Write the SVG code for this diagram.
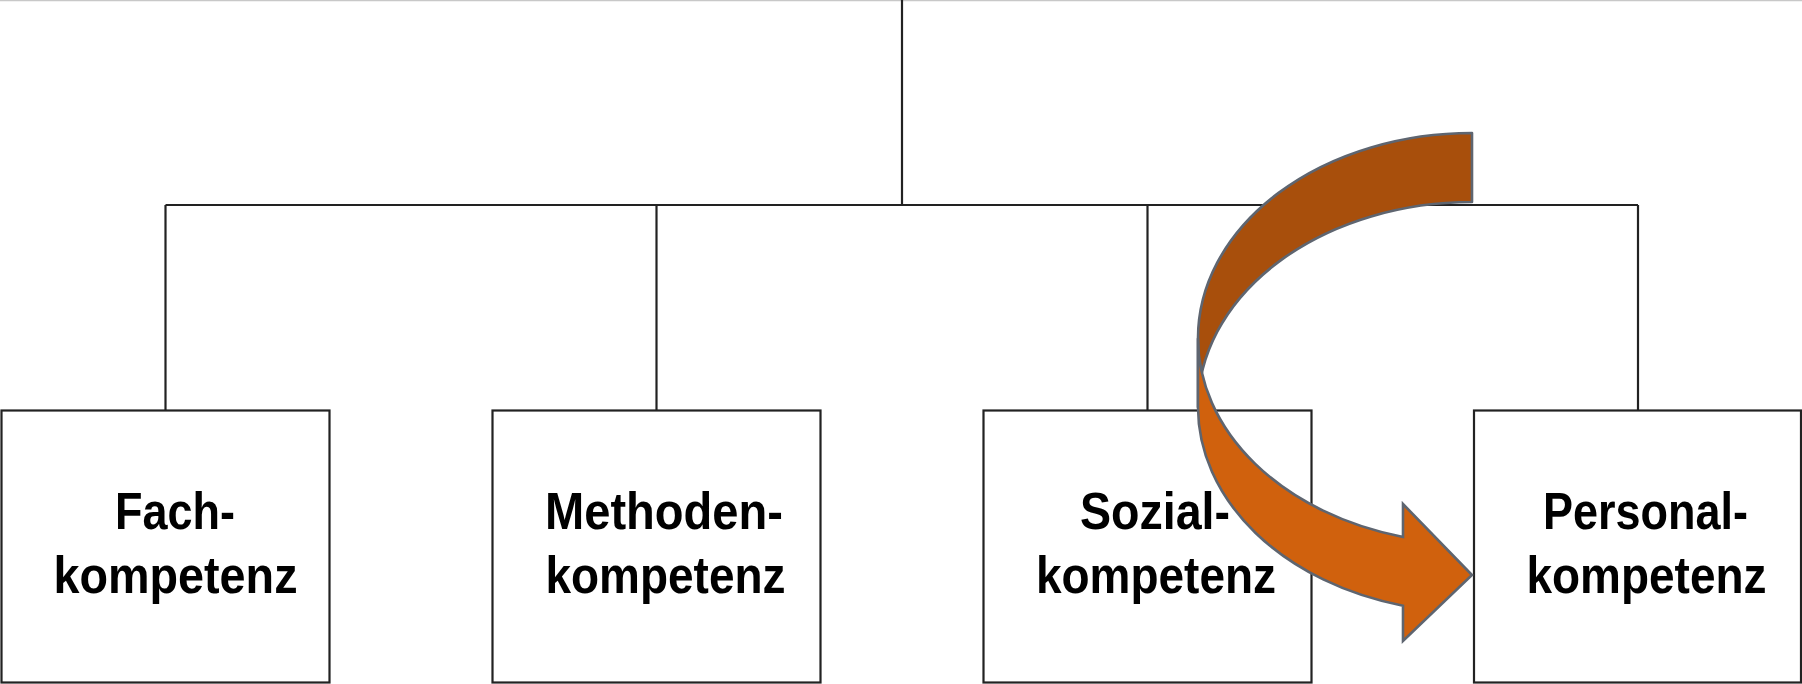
<svg xmlns="http://www.w3.org/2000/svg" width="1802" height="684" viewBox="0 0 1802 684">
<defs>
<style>
.box{fill:#fff;stroke:#222;stroke-width:2.2}
.ln{stroke:#222;stroke-width:2.2;fill:none}
.lbl{font-family:"Liberation Sans",Arial,sans-serif;font-weight:bold;font-size:52px;fill:#000;text-anchor:middle}
.back{fill:#A84F0C;stroke:#5E6570;stroke-width:2.6;stroke-linejoin:round}
.front{fill:#D0610D;stroke:#5E6570;stroke-width:2.6;stroke-linejoin:miter}
</style>
</defs>
<rect width="1802" height="684" fill="#fff"/>
<line x1="0" y1="0.5" x2="1802" y2="0.5" stroke="#c8c8c8" stroke-width="1.5"/>
<g id="connectors">
<line class="ln" x1="902" y1="0" x2="902" y2="205"/>
<line class="ln" x1="165.5" y1="205" x2="1638" y2="205"/>
<line class="ln" x1="165.5" y1="205" x2="165.5" y2="410.5"/>
<line class="ln" x1="656.5" y1="205" x2="656.5" y2="410.5"/>
<line class="ln" x1="1147.5" y1="205" x2="1147.5" y2="410.5"/>
<line class="ln" x1="1638" y1="205" x2="1638" y2="410.5"/>
</g>
<g id="node-fach">
<rect class="box" x="1.5" y="410.5" width="328" height="272"/>
<text class="lbl" x="175" y="529" textLength="120" lengthAdjust="spacingAndGlyphs">Fach-</text>
<text class="lbl" x="175.5" y="593" textLength="244" lengthAdjust="spacingAndGlyphs">kompetenz</text>
</g>
<g id="node-methoden">
<rect class="box" x="492.5" y="410.5" width="328" height="272"/>
<text class="lbl" x="664" y="529" textLength="238" lengthAdjust="spacingAndGlyphs">Methoden-</text>
<text class="lbl" x="665.5" y="593" textLength="240" lengthAdjust="spacingAndGlyphs">kompetenz</text>
</g>
<g id="node-sozial">
<rect class="box" x="983.5" y="410.5" width="328" height="272"/>
<text class="lbl" x="1155" y="529" textLength="150" lengthAdjust="spacingAndGlyphs">Sozial-</text>
<text class="lbl" x="1156" y="593" textLength="240" lengthAdjust="spacingAndGlyphs">kompetenz</text>
</g>
<g id="node-personal">
<rect class="box" x="1474" y="410.5" width="327" height="272"/>
<text class="lbl" x="1645.5" y="529" textLength="205" lengthAdjust="spacingAndGlyphs">Personal-</text>
<text class="lbl" x="1646.5" y="593" textLength="240" lengthAdjust="spacingAndGlyphs">kompetenz</text>
</g>
<g id="curved-arrow">
<path class="back" d="M1472,133 A274,205.3 0 0 0 1198,338.3 L1198,407.3 A274,205.3 0 0 1 1472,202 Z"/>
<path class="front" d="M1198,338.3 A274,205.3 0 0 0 1403,537 L1403,504 L1472,575 L1403,641 L1403,605.7 A274,205.3 0 0 1 1198,407.3 Z"/>
</g>
</svg>
